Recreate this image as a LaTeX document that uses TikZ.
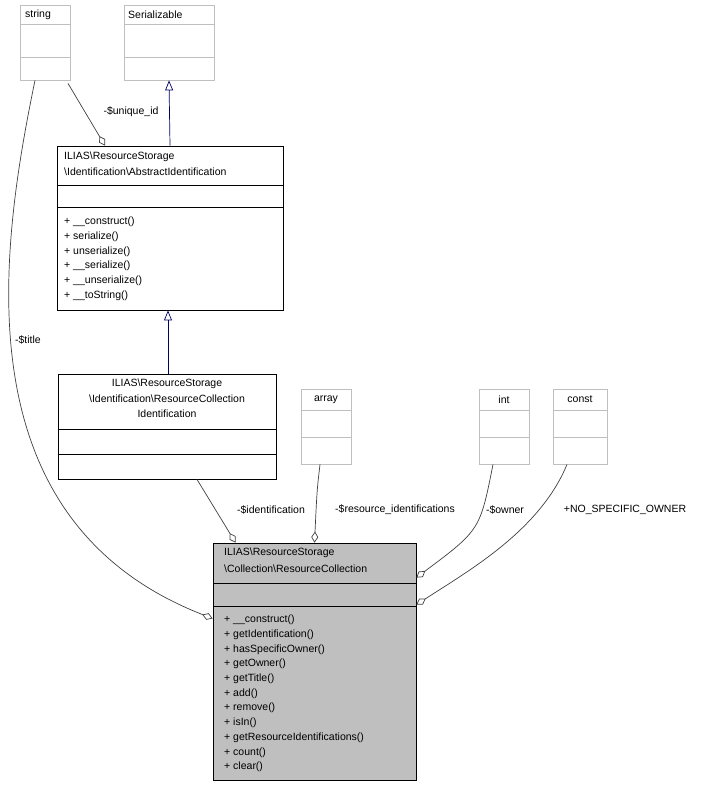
\documentclass[tikz,border=0pt]{standalone}
\usepackage{fontspec}
\setmainfont{Liberation Sans}
\usetikzlibrary{arrows.meta,calc}
\begin{document}
\begin{tikzpicture}[x=1pt,y=-1pt,
  gbox/.style={draw=black!25,fill=white,inner sep=0,line width=0.8pt},
  bbox/.style={draw=black,fill=white,inner sep=0,line width=0.8pt},
  txt/.style={anchor=west,inner sep=0,font=\fontsize{10.5}{12}\selectfont},
  lbl/.style={inner sep=0,font=\fontsize{10.5}{12}\selectfont},
  agg/.style={draw=black!75,line width=0.7pt,-{Diamond[open,length=11pt,width=7pt]}},
  inh/.style={draw=blue!40!black,line width=0.7pt,{Triangle[open,length=10pt,width=8pt]}-}]
\useasboundingbox (0,0) rectangle (709,787);
% string
\node[gbox,minimum width=50,minimum height=75] (str) at (45,42.5) {};
\draw[black!25] (20,24)--(70,24) (20,57)--(70,57);
\node[txt] at (25,14.5) {string};
% Serializable
\node[gbox,minimum width=90,minimum height=75] (ser) at (169,42.5) {};
\draw[black!25] (124,24)--(214,24) (124,57)--(214,57);
\node[txt] at (128,14.5) {Serializable};
% AbstractIdentification
\node[bbox,minimum width=226,minimum height=164] (abs) at (170,228) {};
\draw (57,185)--(283,185) (57,207)--(283,207);
\node[txt] at (64,157) {ILIAS\textbackslash ResourceStorage};
\node[txt] at (64,172) {\textbackslash Identification\textbackslash AbstractIdentification};
\foreach \t [count=\i from 0] in {\_\_construct(),serialize(),unserialize(),\_\_serialize(),\_\_unserialize(),\_\_toString()}
  \node[txt] at (64,222+14.7*\i) {+ \t};
% RCI
\node[bbox,minimum width=218,minimum height=105] (rci) at (167,426.5) {};
\draw (58,429)--(276,429) (58,454)--(276,454);
\node[lbl] at (167,384) {ILIAS\textbackslash ResourceStorage};
\node[lbl] at (167,399) {\textbackslash Identification\textbackslash ResourceCollection};
\node[lbl] at (167,414) {Identification};
% array, int, const
\node[gbox,minimum width=50,minimum height=75] (arr) at (326,426.5) {};
\draw[black!25] (301,410)--(351,410) (301,437)--(351,437);
\node[lbl] at (326,399.5) {array};
\node[gbox,minimum width=50,minimum height=75] (int) at (504,426.5) {};
\draw[black!25] (479,410)--(529,410) (479,437)--(529,437);
\node[lbl] at (504,399.5) {int};
\node[gbox,minimum width=54,minimum height=75] (cst) at (580,426.5) {};
\draw[black!25] (553,410)--(607,410) (553,437)--(607,437);
\node[lbl] at (580,399.5) {const};
% ResourceCollection
\node[draw=black,fill=black!25,inner sep=0,line width=0.8pt,minimum width=203,minimum height=237] (rc) at (314.5,661.5) {};
\draw (213,583)--(416,583) (213,606)--(416,606);
\node[txt] at (224,553) {ILIAS\textbackslash ResourceStorage};
\node[txt] at (224,569) {\textbackslash Collection\textbackslash ResourceCollection};
\foreach \t [count=\i from 0] in {\_\_construct(),getIdentification(),hasSpecificOwner(),getOwner(),getTitle(),add(),remove(),isIn(),getResourceIdentifications(),count(),clear()}
  \node[txt] at (224,620+14.7*\i) {+ \t};
% edges
\draw[inh] (ser.south) -- (abs.north);
\draw[inh] ($(abs.south)+(-2,0)$) -- ($(rci.north)+(1,0)$);
\draw[agg] ($(str.south)+(-10,0)$) .. controls (0,250) and (-40,520) .. ($(rc.west)+(0,-43)$);
\node[lbl] at (28,340) {-\$title};
\draw[agg] ($(str.south)+(23,3)$) -- ($(abs.north)+(-65,0)$);
\node[lbl] at (131,112) {-\$unique\_id};
\draw[agg] ($(rci.south)+(30,0)$) -- ($(rc.north)+(-79,0)$);
\node[lbl] at (271,510) {-\$identification};
\draw[agg] ($(arr.south)+(-6,0)$) .. controls (317,490) .. ($(rc.north)+(0,0)$);
\node[lbl] at (395,510) {-\$resource\_identifications};
\draw[agg] ($(int.south)+(-11,0)$) .. controls (480,530) .. ($(rc.north east)+(0,35)$);
\node[lbl] at (505,510) {-\$owner};
\draw[agg] ($(cst.south)+(-13,0)$) .. controls (540,530) and (470,570) .. ($(rc.north east)+(0,62)$);
\node[lbl] at (625,510) {+NO\_SPECIFIC\_OWNER};
\end{tikzpicture}
\end{document}
